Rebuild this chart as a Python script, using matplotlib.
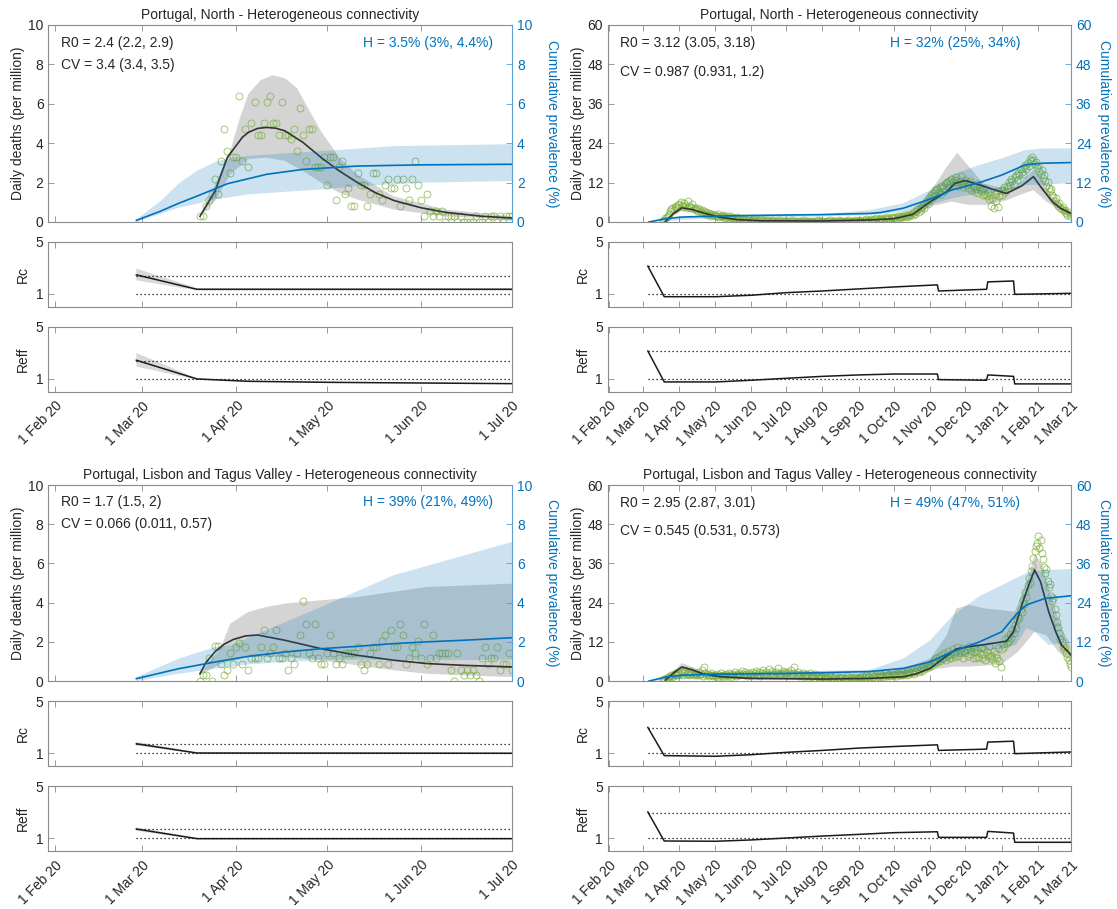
import matplotlib
matplotlib.use("Agg")
import matplotlib.pyplot as plt
import matplotlib.dates as mdates
from matplotlib.ticker import FixedLocator, FuncFormatter
import numpy as np
import pandas as pd

plt.rcParams['font.family'] = ['Liberation Sans', 'DejaVu Sans']
plt.rcParams['font.size'] = 10

BLUE = '#0072BD'
BLUE_SPINE = '#5a9fd4'
GREEN = '#77AC30'
EDGE = '#8a8a8a'
TEXT = '#262626'
MODEL = '#333333'

# ---------------------------------------------------------------- data
TITLE_NORTH = "Portugal, North - Heterogeneous connectivity"
TITLE_LVT = "Portugal, Lisbon and Tagus Valley - Heterogeneous connectivity"

# Daily deaths per million, first wave (from 20 Mar 2020)
TL_DEATHS_START = "2020-03-20"
TL_DEATHS = [0.28, 0.28, 0.83, 1.1, 1.4, 2.2, 1.4, 3.1, 4.7, 3.6,
             2.5, 3.3, 3.3, 6.4, 3.1, 4.7, 2.8, 5.0, 6.1, 4.4,
             4.4, 5.0, 6.1, 6.4, 5.0, 5.0, 4.4, 6.1, 4.4, 4.4,
             4.2, 4.7, 3.6, 5.8, 4.4, 3.1, 4.7, 4.7, 2.8, 2.8,
             2.8, 3.3, 1.9, 3.3, 3.3, 1.1, 2.8, 3.1, 1.4, 1.7,
             0.83, 0.83, 2.5, 1.9, 1.9, 0.83, 1.4, 2.5, 2.5, 1.4,
             1.1, 1.9, 2.2, 1.7, 1.7, 2.2, 0.83, 2.2, 1.7, 1.1,
             2.2, 3.1, 1.9, 1.1, 0.28, 1.4, 0.56, 0.28, 0.56, 0.28,
             0.56, 0, 0.28, 0.28, 0.28, 0, 0.28, 0, 0, 0,
             0, 0.28, 0, 0, 0.28, 0, 0.28, 0.28, 0, 0.28,
             0, 0.28, 0.28, 0.28]

BL_DEATHS_START = "2020-03-20"
BL_DEATHS = [0, 0.3, 0.3, 1.2, 0, 1.77, 1.77, 0.85, 0.3, 0.58,
             1.45, 0.85, 1.74, 1.94, 0.85, 1.74, 0.58, 1.2, 1.2, 1.2,
             1.74, 2.62, 1.2, 1.45, 1.74, 2.62, 1.2, 1.2, 1.45, 0.58,
             1.2, 0.85, 1.45, 2.33, 4.07, 2.9, 1.45, 1.2, 2.9, 1.2,
             0.85, 0.85, 1.45, 2.33, 1.45, 0.85, 1.2, 0.85, 1.45, 1.45,
             1.45, 1.45, 1.74, 0.85, 0.58, 0.85, 1.45, 1.74, 1.74, 0.85,
             2.03, 2.33, 0.85, 2.62, 1.74, 1.74, 2.9, 2.33, 0.85, 1.2,
             1.74, 1.45, 2.03, 1.2, 2.9, 0.85, 1.2, 2.33, 1.2, 1.45,
             1.45, 1.45, 1.45, 0.58, 0, 1.45, 0.58, 0.3, 0.58, 0.3,
             0.58, 0.3, 0, 1.2, 1.74, 0.85, 1.2, 1.2, 1.74, 0.58,
             0.85, 0.85, 1.45, 0.58]

# Daily deaths per million, full year (from 18 Mar 2020), month by month
TR_DEATHS_START = "2020-03-18"
TR_MAR20 = [0.3, 0.6, 1.1, 1.4, 1.9, 2.5, 3.3, 3.9, 4.4, 3.6, 4.7, 5.0, 4.4, 5.3]
TR_APR20 = [5.6, 6.1, 5.0, 4.7, 5.8, 5.3, 4.4, 6.4, 5.0, 4.2, 4.7, 5.5, 3.9, 4.4, 3.6,
            4.2, 3.3, 3.9, 3.1, 3.6, 2.8, 3.3, 2.5, 3.1, 2.2, 2.8, 2.5, 1.9, 2.5, 2.2]
TR_MAY20 = [2.2, 1.7, 1.9, 2.5, 1.4, 1.9, 1.7, 2.2, 1.4, 1.1, 1.7, 1.4, 0.8, 1.9, 1.1, 1.4,
            0.8, 1.1, 0.6, 1.4, 0.8, 1.1, 0.6, 0.8, 1.1, 0.6, 0.3, 0.8, 0.6, 1.1, 0.3]
TR_JUN20 = [0.6, 0.3, 0.8, 0.3, 0.6, 0.0, 0.6, 0.3, 0.8, 0.3, 0.3, 0.6, 0.0, 0.3, 0.6,
            0.3, 0.0, 0.3, 0.6, 0.3, 0.0, 0.3, 0.3, 0.0, 0.6, 0.3, 0.0, 0.3, 0.3, 0.0]
TR_JUL20 = [0.3, 0.0, 0.3, 0.0, 0.3, 0.6, 0.0, 0.3, 0.0, 0.3, 0.0, 0.0, 0.3, 0.3, 0.0, 0.6,
            0.0, 0.3, 0.0, 0.3, 0.0, 0.3, 0.0, 0.0, 0.3, 0.0, 0.3, 0.6, 0.0, 0.3, 0.0]
TR_AUG20 = [0.3, 0.0, 0.0, 0.3, 0.0, 0.3, 0.6, 0.0, 0.0, 0.3, 0.3, 0.0, 0.3, 0.0, 0.6, 0.3,
            0.0, 0.3, 0.0, 0.3, 0.3, 0.0, 0.6, 0.3, 0.0, 0.3, 0.3, 0.0, 0.6, 0.3, 0.3]
TR_SEP20 = [0.3, 0.6, 0.3, 0.0, 0.6, 0.3, 0.8, 0.3, 0.6, 0.3, 0.8, 0.6, 0.3, 0.8, 0.6,
            1.1, 0.6, 0.8, 0.3, 1.1, 0.8, 0.6, 1.1, 0.8, 1.4, 0.8, 1.1, 0.6, 1.4, 1.1]
TR_OCT20 = [1.1, 1.4, 0.8, 1.7, 1.4, 1.1, 1.9, 1.4, 1.7, 2.2, 1.4, 1.9, 2.5, 1.7, 2.2, 2.8,
            2.2, 3.1, 2.5, 3.3, 3.9, 3.1, 4.4, 3.6, 4.7, 5.3, 4.4, 5.8, 6.4, 5.6, 7.2]
TR_NOV20 = [6.7, 8.1, 7.5, 8.9, 9.7, 8.3, 10.0, 9.2, 10.6, 8.6, 11.1, 10.3, 9.4, 11.9, 12.2,
            10.8, 12.5, 11.7, 13.1, 12.2, 11.4, 12.8, 13.6, 12.2, 11.1, 12.5, 13.9, 11.7, 10.6, 12.2]
TR_DEC20 = [12.8, 11.4, 10.3, 11.9, 12.5, 9.7, 11.1, 10.8, 9.2, 10.0, 11.7, 8.9, 10.6, 9.4, 9.7,
            8.3, 10.3, 8.6, 7.8, 9.2, 6.9, 8.1, 5.0, 7.2, 4.4, 8.6, 6.4, 9.4, 4.7, 7.8, 9.7]
TR_JAN21 = [8.3, 9.7, 10.6, 9.2, 11.1, 10.3, 12.2, 11.4, 13.1, 12.5, 11.7, 13.6, 14.4, 12.8, 15.0,
            14.2, 16.1, 15.3, 14.7, 16.7, 17.5, 16.1, 18.1, 17.2, 19.2, 18.6, 19.7, 18.9, 17.8, 18.3, 16.4]
TR_FEB21 = [16.9, 15.6, 14.7, 15.8, 13.3, 14.2, 12.5, 11.1, 12.2, 10.3, 9.4, 10.0, 8.1, 7.5,
            6.4, 7.2, 5.6, 5.0, 5.8, 4.4, 3.9, 4.7, 3.3, 3.6, 2.8, 2.2, 3.1, 1.9]
TR_MAR21 = [2.5]

BR_DEATHS_START = "2020-03-18"
BR_MAR20 = [0.3, 0.6, 0.3, 0.8, 1.1, 0.8, 1.4, 1.7, 1.1, 2.2, 1.9, 2.5, 1.7, 2.8]
BR_APR20 = [2.2, 3.1, 2.5, 1.9, 2.8, 3.3, 2.2, 2.5, 1.7, 3.1, 2.2, 2.8, 1.9, 2.5, 2.2,
            1.7, 2.8, 1.9, 2.2, 3.3, 1.4, 4.2, 2.5, 1.7, 2.2, 1.4, 1.9, 2.5, 1.7, 1.4]
BR_MAY20 = [1.9, 1.4, 2.2, 1.1, 1.7, 2.5, 1.4, 1.9, 1.1, 1.7, 2.2, 1.4, 2.5, 1.9, 1.1, 2.2,
            1.7, 2.8, 1.4, 2.2, 1.9, 2.5, 1.7, 3.1, 2.2, 1.9, 2.8, 2.2, 1.4, 2.5, 1.9]
BR_JUN20 = [2.2, 2.8, 1.9, 2.5, 3.1, 1.7, 2.2, 2.8, 1.4, 2.5, 3.3, 2.2, 1.9, 2.8, 2.2,
            3.6, 1.7, 2.5, 3.1, 2.2, 1.9, 2.8, 2.5, 3.9, 2.2, 1.7, 2.5, 3.1, 2.2, 2.8]
BR_JUL20 = [2.5, 1.9, 2.8, 2.2, 3.3, 1.7, 2.5, 4.2, 2.2, 1.9, 2.8, 1.4, 2.2, 1.7, 2.5, 1.1,
            1.9, 2.2, 1.4, 1.7, 2.5, 1.1, 1.9, 1.4, 0.8, 2.2, 1.4, 1.1, 1.7, 0.8, 1.4]
BR_AUG20 = [1.1, 0.8, 1.4, 0.6, 1.1, 0.8, 1.4, 0.3, 1.1, 0.6, 0.8, 1.4, 0.6, 0.3, 1.1, 0.8,
            0.6, 1.1, 0.3, 0.8, 0.6, 1.4, 0.8, 0.3, 1.1, 0.6, 0.8, 0.3, 1.1, 0.6, 0.8]
BR_SEP20 = [0.8, 1.1, 0.6, 1.4, 0.8, 1.1, 1.7, 0.8, 1.4, 1.1, 0.6, 1.7, 1.1, 1.4, 0.8,
            1.9, 1.4, 1.1, 2.2, 1.4, 1.7, 1.1, 1.9, 2.5, 1.4, 1.7, 2.2, 1.4, 1.9, 1.7]
BR_OCT20 = [1.9, 2.2, 1.4, 2.5, 1.7, 2.2, 1.9, 2.8, 1.7, 2.2, 2.5, 1.9, 3.1, 2.2, 2.8, 2.5,
            3.3, 2.2, 3.1, 2.8, 3.6, 2.8, 3.3, 3.9, 3.1, 4.2, 3.6, 4.7, 3.9, 5.0, 4.4]
BR_NOV20 = [5.3, 4.7, 5.8, 6.4, 5.6, 6.9, 5.8, 7.5, 6.1, 8.1, 6.7, 7.2, 8.6, 6.4, 7.8,
            9.2, 7.2, 8.3, 6.9, 9.7, 8.1, 7.5, 8.9, 10.3, 7.8, 9.4, 8.6, 10.0, 7.2, 9.2]
BR_DEC20 = [8.6, 9.7, 7.8, 10.6, 8.3, 9.2, 7.2, 10.3, 8.9, 6.9, 9.4, 7.5, 8.6, 10.0, 7.2,
            8.3, 9.7, 6.4, 8.9, 7.8, 10.6, 7.5, 8.1, 6.7, 9.2, 5.6, 8.3, 7.2, 10.0, 6.1, 4.4]
BR_JAN21 = [9.7, 11.4, 10.3, 12.8, 11.7, 13.6, 12.2, 14.4, 13.3, 15.6, 14.7, 17.2, 16.1, 18.6,
            20.0, 19.4, 22.2, 21.1, 24.7, 23.6, 27.2, 25.8, 29.4, 31.4, 30.0, 33.6, 35.3, 37.8,
            39.7, 41.4, 42.2]
BR_FEB21 = [44.4, 40.8, 43.3, 39.2, 37.5, 35.0, 33.1, 34.4, 30.6, 28.9, 29.7, 26.1, 24.4, 25.3,
            21.9, 20.3, 18.1, 16.4, 14.7, 12.8, 11.9, 10.6, 9.7, 10.3, 8.6, 7.5, 6.4, 5.3]
BR_MAR21 = [4.4]

# Fitted daily deaths (median) and 95% band, as (date, value) pairs
TL_MODEL = [("2020-03-20", 0.29), ("2020-03-25", 1.57), ("2020-03-29", 3.27), ("2020-04-03", 4.3),
            ("2020-04-05", 4.55), ("2020-04-08", 4.75), ("2020-04-11", 4.8), ("2020-04-14", 4.76),
            ("2020-04-17", 4.63), ("2020-04-23", 4.04), ("2020-04-29", 3.27), ("2020-05-05", 2.59),
            ("2020-05-11", 2.0), ("2020-05-17", 1.48), ("2020-05-23", 1.09), ("2020-06-01", 0.72),
            ("2020-06-09", 0.49), ("2020-06-21", 0.29), ("2020-07-01", 0.2)]
TL_MODEL_HI = [("2020-03-20", 0.29), ("2020-03-25", 1.9), ("2020-03-30", 3.6), ("2020-04-02", 5.2),
               ("2020-04-05", 6.5), ("2020-04-09", 7.2), ("2020-04-13", 7.45), ("2020-04-17", 7.3),
               ("2020-04-21", 6.8), ("2020-04-25", 5.7), ("2020-04-29", 4.6), ("2020-05-05", 3.27),
               ("2020-05-11", 2.4), ("2020-05-23", 1.3), ("2020-06-09", 0.63), ("2020-07-01", 0.29)]
TL_MODEL_LO = [("2020-03-20", 0.29), ("2020-03-25", 1.06), ("2020-03-30", 2.42), ("2020-04-05", 3.19),
               ("2020-04-11", 3.27), ("2020-04-17", 3.1), ("2020-04-23", 2.59), ("2020-04-29", 2.0),
               ("2020-05-05", 1.48), ("2020-05-11", 1.14), ("2020-05-23", 0.63), ("2020-06-09", 0.29),
               ("2020-07-01", 0.12)]

BL_MODEL = [("2020-03-20", 0.37), ("2020-03-22", 0.95), ("2020-03-25", 1.5), ("2020-03-28", 1.88),
            ("2020-03-31", 2.12), ("2020-04-04", 2.3), ("2020-04-08", 2.35), ("2020-04-17", 2.08),
            ("2020-04-29", 1.65), ("2020-05-11", 1.31), ("2020-05-23", 1.06), ("2020-06-03", 0.89),
            ("2020-06-15", 0.8), ("2020-07-01", 0.72)]
BL_MODEL_HI = [("2020-03-20", 0.37), ("2020-03-27", 1.74), ("2020-03-30", 2.93), ("2020-04-05", 3.53),
               ("2020-04-11", 3.78), ("2020-04-17", 3.95), ("2020-04-29", 4.12), ("2020-05-11", 4.29),
               ("2020-06-03", 4.8), ("2020-07-01", 4.97)]
BL_MODEL_LO = [("2020-03-20", 0.3), ("2020-03-27", 0.89), ("2020-04-05", 1.23), ("2020-04-17", 1.23),
               ("2020-04-29", 1.06), ("2020-05-11", 0.8), ("2020-05-23", 0.55), ("2020-06-03", 0.37),
               ("2020-06-15", 0.29), ("2020-07-01", 0.2)]

TR_MODEL = [("2020-03-20", 0.2), ("2020-03-27", 2.6), ("2020-04-03", 4.3), ("2020-04-12", 3.8),
            ("2020-04-21", 2.8), ("2020-05-06", 1.4), ("2020-05-21", 0.7), ("2020-06-10", 0.35),
            ("2020-08-01", 0.3), ("2020-09-10", 0.6), ("2020-10-01", 1.0), ("2020-10-17", 2.3),
            ("2020-11-01", 6.2), ("2020-11-15", 9.2), ("2020-11-22", 11.8), ("2020-12-01", 12.6),
            ("2020-12-13", 11.3), ("2020-12-24", 10.0), ("2021-01-05", 8.7), ("2021-01-18", 11.0),
            ("2021-01-28", 13.8), ("2021-02-04", 10.3), ("2021-02-13", 6.2), ("2021-02-20", 4.2),
            ("2021-03-01", 2.6)]
TR_MODEL_HI = [("2020-03-20", 0.3), ("2020-04-03", 5.0), ("2020-04-21", 3.2), ("2020-05-21", 0.9),
               ("2020-09-10", 0.8), ("2020-10-01", 1.5), ("2020-10-17", 3.5), ("2020-10-24", 6.0),
               ("2020-11-06", 11.8), ("2020-11-15", 16.8), ("2020-11-24", 21.1), ("2020-12-04", 16.8),
               ("2020-12-16", 11.8), ("2021-01-01", 10.3), ("2021-01-13", 10.8), ("2021-01-28", 15.8),
               ("2021-02-02", 14.7), ("2021-02-13", 7.7), ("2021-03-01", 2.9)]
TR_MODEL_LO = [("2020-03-20", 0.15), ("2020-04-03", 3.6), ("2020-04-21", 2.4), ("2020-05-21", 0.5),
               ("2020-09-10", 0.4), ("2020-10-17", 1.2), ("2020-11-01", 4.7), ("2020-11-19", 6.2),
               ("2020-12-04", 5.2), ("2020-12-20", 5.2), ("2021-01-05", 6.6), ("2021-01-16", 8.2),
               ("2021-01-28", 9.7), ("2021-02-08", 6.2), ("2021-03-01", 1.5)]

BR_MODEL = [("2020-03-20", 0.3), ("2020-03-27", 2.5), ("2020-04-03", 4.3), ("2020-04-12", 3.4),
            ("2020-04-21", 2.2), ("2020-05-06", 1.3), ("2020-06-01", 0.8), ("2020-08-01", 0.6),
            ("2020-09-10", 0.8), ("2020-10-09", 1.3), ("2020-10-20", 2.2), ("2020-11-01", 3.9),
            ("2020-11-12", 6.9), ("2020-11-23", 9.8), ("2020-12-04", 10.5), ("2020-12-18", 11.2),
            ("2021-01-05", 12.2), ("2021-01-11", 15.1), ("2021-01-19", 24.3), ("2021-01-25", 30.4),
            ("2021-01-29", 34.0), ("2021-02-03", 30.4), ("2021-02-10", 21.2), ("2021-02-16", 15.1),
            ("2021-02-21", 11.0), ("2021-03-01", 8.0)]
BR_MODEL_HI = [("2020-03-20", 0.5), ("2020-04-03", 5.5), ("2020-04-21", 3.0), ("2020-06-01", 1.2),
               ("2020-09-10", 1.6), ("2020-10-09", 3.9), ("2020-11-01", 6.9), ("2020-11-15", 14.0),
               ("2020-11-23", 22.2), ("2020-12-04", 23.3), ("2020-12-18", 22.2), ("2021-01-01", 21.7),
               ("2021-01-12", 21.2), ("2021-01-22", 30.0), ("2021-01-29", 38.6), ("2021-02-04", 36.0),
               ("2021-02-11", 27.3), ("2021-02-21", 16.0), ("2021-03-01", 11.0)]
BR_MODEL_LO = [("2020-03-20", 0.2), ("2020-04-03", 3.3), ("2020-04-21", 1.7), ("2020-06-01", 0.5),
               ("2020-09-10", 0.4), ("2020-11-01", 3.4), ("2020-11-21", 4.4), ("2020-12-04", 4.4),
               ("2021-01-01", 5.1), ("2021-01-15", 9.0), ("2021-01-29", 15.1), ("2021-02-08", 14.0),
               ("2021-02-18", 9.0), ("2021-03-01", 5.9)]

# Cumulative prevalence (%) and its band
TL_PREV = [("2020-02-28", 0.08), ("2020-03-07", 0.55), ("2020-03-13", 0.95), ("2020-03-19", 1.31),
           ("2020-03-29", 1.94), ("2020-04-11", 2.42), ("2020-04-23", 2.67), ("2020-05-11", 2.84),
           ("2020-06-01", 2.9), ("2020-07-01", 2.93)]
TL_PREV_HI = [("2020-02-28", 0.12), ("2020-03-07", 1.06), ("2020-03-13", 1.95), ("2020-03-19", 2.6),
              ("2020-03-25", 3.05), ("2020-03-30", 3.25), ("2020-04-05", 3.36), ("2020-04-29", 3.6),
              ("2020-05-23", 3.85), ("2020-07-01", 3.95)]
TL_PREV_LO = [("2020-02-28", 0.0), ("2020-03-13", 0.72), ("2020-03-25", 1.14), ("2020-04-05", 1.4),
              ("2020-04-17", 1.53), ("2020-04-29", 1.65), ("2020-05-11", 1.82), ("2020-06-03", 2.0),
              ("2020-07-01", 2.08)]

BL_PREV = [("2020-02-28", 0.12), ("2020-03-13", 0.63), ("2020-03-25", 0.97), ("2020-04-05", 1.26),
           ("2020-04-17", 1.48), ("2020-04-29", 1.65), ("2020-05-11", 1.77), ("2020-05-23", 1.91),
           ("2020-06-03", 2.0), ("2020-06-15", 2.08), ("2020-07-01", 2.21)]
BL_PREV_HI = [("2020-02-28", 0.2), ("2020-03-13", 1.14), ("2020-03-25", 1.74), ("2020-03-30", 1.82),
              ("2020-04-29", 3.78), ("2020-05-23", 5.4), ("2020-06-15", 6.4), ("2020-07-01", 7.1)]
BL_PREV_LO = [("2020-02-28", 0.0), ("2020-03-13", 0.37), ("2020-03-25", 0.63), ("2020-04-05", 0.85),
              ("2020-04-17", 0.97), ("2020-04-29", 1.06), ("2020-05-11", 1.09), ("2020-06-03", 1.06),
              ("2020-07-01", 1.09)]

TR_PREV = [("2020-03-06", 0.0), ("2020-03-20", 1.0), ("2020-04-03", 1.5), ("2020-04-21", 1.7),
           ("2020-06-01", 2.0), ("2020-08-01", 2.25), ("2020-09-10", 2.6), ("2020-09-20", 2.9),
           ("2020-10-09", 4.2), ("2020-11-01", 7.0), ("2020-11-19", 9.7), ("2020-12-13", 12.0),
           ("2021-01-01", 14.3), ("2021-01-21", 17.4), ("2021-02-05", 17.9), ("2021-03-01", 18.1)]
TR_PREV_HI = [("2020-03-06", 0.0), ("2020-03-20", 1.2), ("2020-05-01", 1.9), ("2020-08-01", 2.45),
              ("2020-09-10", 3.6), ("2020-10-09", 5.7), ("2020-11-01", 9.7), ("2020-11-19", 14.3),
              ("2020-12-13", 17.4), ("2021-01-01", 19.4), ("2021-01-21", 21.9), ("2021-02-05", 22.4),
              ("2021-03-01", 22.4)]
TR_PREV_LO = [("2020-03-06", 0.0), ("2020-05-01", 1.2), ("2020-08-01", 1.7), ("2020-09-10", 2.1),
              ("2020-10-09", 3.1), ("2020-11-01", 5.2), ("2020-11-19", 7.2), ("2020-12-13", 8.7),
              ("2021-01-01", 9.2), ("2021-01-21", 11.3), ("2021-02-05", 11.3), ("2021-03-01", 11.9)]

BR_PREV = [("2020-03-06", 0.0), ("2020-03-20", 1.2), ("2020-04-03", 1.8), ("2020-05-01", 2.1),
           ("2020-07-01", 2.3), ("2020-09-10", 2.9), ("2020-10-09", 3.9), ("2020-11-01", 5.9),
           ("2020-11-20", 9.0), ("2020-12-13", 12.0), ("2021-01-01", 15.1), ("2021-01-14", 20.7),
           ("2021-01-22", 23.3), ("2021-02-07", 25.3), ("2021-03-01", 26.1)]
BR_PREV_HI = [("2020-03-06", 0.0), ("2020-03-20", 1.5), ("2020-05-01", 2.5), ("2020-09-10", 3.4),
              ("2020-10-09", 6.9), ("2020-11-01", 12.5), ("2020-11-20", 20.0), ("2020-12-13", 26.0),
              ("2021-01-02", 29.5), ("2021-01-13", 31.5), ("2021-01-25", 33.5), ("2021-02-10", 34.0),
              ("2021-03-01", 34.3)]
BR_PREV_LO = [("2020-03-06", 0.0), ("2020-05-01", 1.2), ("2020-09-10", 1.7), ("2020-10-09", 2.0),
              ("2020-11-01", 3.9), ("2020-11-20", 6.9), ("2020-12-13", 9.0), ("2021-01-02", 9.9),
              ("2021-01-13", 11.0), ("2021-01-22", 16.2), ("2021-01-29", 15.1), ("2021-02-10", 11.0),
              ("2021-03-01", 12.1)]

# Reproduction numbers
TL_RC = [("2020-02-28", 2.47), ("2020-03-19", 1.36), ("2020-07-01", 1.36)]
TL_RC_HI = [("2020-02-28", 2.95), ("2020-03-19", 1.46), ("2020-07-01", 1.46)]
TL_RC_LO = [("2020-02-28", 2.05), ("2020-03-19", 1.27), ("2020-07-01", 1.27)]
TL_REFF = [("2020-02-28", 2.44), ("2020-03-19", 1.0), ("2020-04-05", 0.82), ("2020-05-01", 0.74),
           ("2020-07-01", 0.64)]
TL_REFF_HI = [("2020-02-28", 3.0), ("2020-03-19", 1.05), ("2020-04-05", 0.86), ("2020-07-01", 0.67)]
TL_REFF_LO = [("2020-02-28", 1.95), ("2020-03-19", 0.95), ("2020-04-05", 0.79), ("2020-07-01", 0.61)]

BL_RC = [("2020-02-28", 1.71), ("2020-03-19", 1.0), ("2020-07-01", 0.98)]
BL_RC_HI = [("2020-02-28", 1.86), ("2020-03-19", 1.06), ("2020-07-01", 1.04)]
BL_RC_LO = [("2020-02-28", 1.57), ("2020-03-19", 0.94), ("2020-07-01", 0.92)]
BL_REFF = [("2020-02-28", 1.69), ("2020-03-19", 0.95), ("2020-07-01", 0.95)]
BL_REFF_HI = [("2020-02-28", 1.84), ("2020-03-19", 1.0), ("2020-07-01", 1.0)]
BL_REFF_LO = [("2020-02-28", 1.55), ("2020-03-19", 0.9), ("2020-07-01", 0.9)]

TR_RC = [("2020-03-05", 3.14), ("2020-03-19", 0.79), ("2020-05-02", 0.79), ("2020-06-01", 0.9),
         ("2020-07-01", 1.1), ("2020-08-01", 1.23), ("2020-09-01", 1.39), ("2020-10-01", 1.54),
         ("2020-11-07", 1.7), ("2020-11-08", 1.23), ("2020-12-19", 1.36), ("2020-12-20", 1.93),
         ("2021-01-11", 2.0), ("2021-01-12", 0.97), ("2021-03-01", 1.05)]
TR_REFF = [("2020-03-05", 3.15), ("2020-03-19", 0.77), ("2020-05-02", 0.77), ("2020-06-01", 0.9),
           ("2020-07-01", 1.05), ("2020-08-01", 1.2), ("2020-09-01", 1.31), ("2020-10-01", 1.38),
           ("2020-11-07", 1.38), ("2020-11-08", 0.95), ("2020-12-19", 0.9), ("2020-12-20", 1.31),
           ("2021-01-11", 1.2), ("2021-01-12", 0.62), ("2021-03-01", 0.62)]

BR_RC = [("2020-03-05", 2.97), ("2020-03-19", 0.8), ("2020-05-02", 0.75), ("2020-06-01", 0.87),
         ("2020-07-01", 1.05), ("2020-08-01", 1.2), ("2020-09-01", 1.38), ("2020-10-01", 1.5),
         ("2020-11-07", 1.63), ("2020-11-08", 1.2), ("2020-12-19", 1.3), ("2020-12-20", 1.84),
         ("2021-01-11", 1.91), ("2021-01-12", 0.95), ("2021-03-01", 1.08)]
BR_REFF = [("2020-03-05", 3.0), ("2020-03-19", 0.77), ("2020-05-02", 0.75), ("2020-06-01", 0.85),
           ("2020-07-01", 1.0), ("2020-08-01", 1.15), ("2020-09-01", 1.28), ("2020-10-01", 1.41),
           ("2020-11-07", 1.48), ("2020-11-08", 1.05), ("2020-12-19", 1.05), ("2020-12-20", 1.51),
           ("2021-01-11", 1.38), ("2021-01-12", 0.67), ("2021-03-01", 0.67)]

# Parameter estimates
TL_R0, TL_TEXT = 2.4, ("R0 = 2.4 (2.2, 2.9)", "CV = 3.4 (3.4, 3.5)", "H = 3.5% (3%, 4.4%)")
BL_R0, BL_TEXT = 1.7, ("R0 = 1.7 (1.5, 2)", "CV = 0.066 (0.011, 0.57)", "H = 39% (21%, 49%)")
TR_R0, TR_TEXT = 3.12, ("R0 = 3.12 (3.05, 3.18)", "CV = 0.987 (0.931, 1.2)", "H = 32% (25%, 34%)")
BR_R0, BR_TEXT = 2.95, ("R0 = 2.95 (2.87, 3.01)", "CV = 0.545 (0.531, 0.573)", "H = 49% (47%, 51%)")

# ---------------------------------------------------------------- helpers
def dnum(s):
    return mdates.date2num(pd.Timestamp(s).to_pydatetime())


def curve(pairs):
    return np.array([dnum(d) for d, _ in pairs]), np.array([v for _, v in pairs])


def band(ax, upper, lower, **kw):
    xu, yu = curve(upper)
    xl, yl = curve(lower)
    ax.fill(np.r_[xu, xl[::-1]], np.r_[yu, yl[::-1]], lw=0, **kw)


def daily(start, values):
    dates = pd.date_range(start, periods=len(values), freq="D")
    return mdates.date2num(dates.to_pydatetime()), np.array(values, dtype=float)


def date_label(v, pos):
    d = mdates.num2date(v)
    return f"{d.day} {d.strftime('%b %y')}"


def style_box(ax):
    for sp in ax.spines.values():
        sp.set_color(EDGE)
        sp.set_linewidth(0.8)


def draw_column(x0, w, ys, cfg):
    (ym, hm), (yr, hr), (ye, he) = ys
    xlim = (dnum(cfg["xlim"][0]), dnum(cfg["xlim"][1]))
    ticks = [dnum(t) for t in cfg["ticks"]]
    ymax = cfg["ymax"]

    # ---- main panel: deaths (left) and prevalence (right)
    ax = fig.add_axes([x0, ym, w, hm])
    style_box(ax)
    ax.spines["right"].set_visible(False)
    ax.set_xlim(*xlim)
    ax.set_ylim(0, ymax)
    ax.set_yticks(cfg["yticks"])
    ax.xaxis.set_major_locator(FixedLocator(ticks))
    ax.tick_params(axis="x", direction="in", top=True, bottom=True, length=4, width=0.6,
                   color=EDGE, labelbottom=False)
    ax.tick_params(axis="y", direction="in", left=True, right=False, length=4, width=0.6,
                   color=EDGE, labelcolor=TEXT, labelsize=10)
    band(ax, cfg["model_hi"], cfg["model_lo"], color="k", alpha=0.17, zorder=1)
    xd, yd = cfg["deaths"]
    ax.plot(xd, yd, "o", mfc="none", mec=GREEN, ms=5, mew=0.6, alpha=0.75, zorder=2)
    xm, ym_ = curve(cfg["model"])
    ax.plot(xm, ym_, color=MODEL, lw=1.2, zorder=3)
    ax.set_ylabel("Daily deaths (per million)", color=TEXT, fontsize=10, labelpad=2)
    ax.set_title(cfg["title"], fontsize=10, color=TEXT, pad=4)

    t = cfg["text"]
    ax.text(0.026, cfg["ty"][0], t[0], transform=ax.transAxes, va="center", ha="left",
            color=TEXT, fontsize=10)
    ax.text(0.026, cfg["ty"][1], t[1], transform=ax.transAxes, va="center", ha="left",
            color=TEXT, fontsize=10)
    ax.text(cfg["hx"], cfg["ty"][0], t[2], transform=ax.transAxes, va="center", ha="right",
            color=BLUE, fontsize=10)

    ax2 = ax.twinx()
    for side in ("left", "top", "bottom"):
        ax2.spines[side].set_visible(False)
    ax2.spines["right"].set_color(BLUE_SPINE)
    ax2.spines["right"].set_linewidth(0.8)
    ax2.set_ylim(0, ymax)
    ax2.set_yticks(cfg["yticks"])
    ax2.tick_params(axis="y", direction="in", length=4, width=0.6, color=BLUE_SPINE,
                    labelcolor=BLUE, labelsize=10)
    band(ax2, cfg["prev_hi"], cfg["prev_lo"], color=BLUE, alpha=0.2)
    xp, yp = curve(cfg["prev"])
    ax2.plot(xp, yp, color=BLUE, lw=1.2)
    ax2.set_ylabel("Cumulative prevalence (%)", color=BLUE, rotation=270, labelpad=cfg["rpad"],
                   fontsize=10)

    # ---- Rc and Reff panels
    start = dnum(cfg["rc"][0][0])
    for (yy, hh), key, label, last in (((yr, hr), "rc", "Rc", False),
                                       ((ye, he), "reff", "Reff", True)):
        axr = fig.add_axes([x0, yy, w, hh])
        style_box(axr)
        axr.set_xlim(*xlim)
        axr.set_ylim(0, 5)
        axr.set_yticks([1, 5])
        axr.xaxis.set_major_locator(FixedLocator(ticks))
        axr.xaxis.set_major_formatter(FuncFormatter(date_label))
        axr.tick_params(axis="x", direction="in", top=True, bottom=True, length=4, width=0.6,
                        color=EDGE, labelcolor=TEXT, labelbottom=last, labelsize=10, pad=5)
        axr.tick_params(axis="y", direction="in", left=True, length=4, width=0.6,
                        color=EDGE, labelcolor=TEXT, labelsize=10)
        if last:
            for lab in axr.get_xticklabels():
                lab.set_rotation(45)
                lab.set_ha("right")
                lab.set_rotation_mode("anchor")
        if key + "_hi" in cfg:
            band(axr, cfg[key + "_hi"], cfg[key + "_lo"], color="k", alpha=0.15, zorder=1)
        axr.plot([start, xlim[1]], [1, 1], ls=(0, (1, 2.2)), color="k", lw=0.9, zorder=2)
        axr.plot([start, xlim[1]], [cfg["r0"], cfg["r0"]], ls=(0, (1, 2.2)), color="k",
                 lw=0.9, zorder=2)
        xr, yr_ = curve(cfg[key])
        axr.plot(xr, yr_, color="#1a1a1a", lw=1.1, zorder=3)
        axr.set_ylabel(label, color=TEXT, fontsize=10, labelpad=4)


# ---------------------------------------------------------------- figure
fig = plt.figure(figsize=(11.17, 9.09), dpi=100)

LEFT_LIM = ("2020-01-30", "2020-07-01")
RIGHT_LIM = ("2020-01-31", "2021-03-01")
LEFT_TICKS = [d.strftime("%Y-%m-%d") for d in pd.date_range("2020-02-01", "2020-07-01", freq="MS")]
RIGHT_TICKS = [d.strftime("%Y-%m-%d") for d in pd.date_range("2020-02-01", "2021-03-01", freq="MS")]

TR_ALL = (TR_MAR20 + TR_APR20 + TR_MAY20 + TR_JUN20 + TR_JUL20 + TR_AUG20 + TR_SEP20 +
          TR_OCT20 + TR_NOV20 + TR_DEC20 + TR_JAN21 + TR_FEB21 + TR_MAR21)
BR_ALL = (BR_MAR20 + BR_APR20 + BR_MAY20 + BR_JUN20 + BR_JUL20 + BR_AUG20 + BR_SEP20 +
          BR_OCT20 + BR_NOV20 + BR_DEC20 + BR_JAN21 + BR_FEB21 + BR_MAR21)

panels = [
    (0.0434, 0.415, ((0.7558, 0.2167), (0.6623, 0.0715), (0.5688, 0.0715)),
     dict(title=TITLE_NORTH, xlim=LEFT_LIM, ticks=LEFT_TICKS, ymax=10, yticks=[0, 2, 4, 6, 8, 10],
          deaths=daily(TL_DEATHS_START, TL_DEATHS), model=TL_MODEL, model_hi=TL_MODEL_HI,
          model_lo=TL_MODEL_LO, prev=TL_PREV, prev_hi=TL_PREV_HI, prev_lo=TL_PREV_LO,
          rc=TL_RC, rc_hi=TL_RC_HI, rc_lo=TL_RC_LO, reff=TL_REFF, reff_hi=TL_REFF_HI,
          reff_lo=TL_REFF_LO, r0=TL_R0, text=TL_TEXT, ty=(0.909, 0.797), hx=0.958, rpad=19)),
    (0.5443, 0.4145, ((0.7558, 0.2167), (0.6623, 0.0715), (0.5688, 0.0715)),
     dict(title=TITLE_NORTH, xlim=RIGHT_LIM, ticks=RIGHT_TICKS, ymax=60,
          yticks=[0, 12, 24, 36, 48, 60],
          deaths=daily(TR_DEATHS_START, TR_ALL), model=TR_MODEL, model_hi=TR_MODEL_HI,
          model_lo=TR_MODEL_LO, prev=TR_PREV, prev_hi=TR_PREV_HI, prev_lo=TR_PREV_LO,
          rc=TR_RC, reff=TR_REFF, r0=TR_R0, text=TR_TEXT, ty=(0.909, 0.761), hx=0.89, rpad=14)),
    (0.0434, 0.415, ((0.2508, 0.2156), (0.1573, 0.0715), (0.0638, 0.0715)),
     dict(title=TITLE_LVT, xlim=LEFT_LIM, ticks=LEFT_TICKS, ymax=10, yticks=[0, 2, 4, 6, 8, 10],
          deaths=daily(BL_DEATHS_START, BL_DEATHS), model=BL_MODEL, model_hi=BL_MODEL_HI,
          model_lo=BL_MODEL_LO, prev=BL_PREV, prev_hi=BL_PREV_HI, prev_lo=BL_PREV_LO,
          rc=BL_RC, rc_hi=BL_RC_HI, rc_lo=BL_RC_LO, reff=BL_REFF, reff_hi=BL_REFF_HI,
          reff_lo=BL_REFF_LO, r0=BL_R0, text=BL_TEXT, ty=(0.915, 0.80), hx=0.958, rpad=19)),
    (0.5443, 0.4145, ((0.2508, 0.2156), (0.1573, 0.0715), (0.0638, 0.0715)),
     dict(title=TITLE_LVT, xlim=RIGHT_LIM, ticks=RIGHT_TICKS, ymax=60,
          yticks=[0, 12, 24, 36, 48, 60],
          deaths=daily(BR_DEATHS_START, BR_ALL), model=BR_MODEL, model_hi=BR_MODEL_HI,
          model_lo=BR_MODEL_LO, prev=BR_PREV, prev_hi=BR_PREV_HI, prev_lo=BR_PREV_LO,
          rc=BR_RC, reff=BR_REFF, r0=BR_R0, text=BR_TEXT, ty=(0.91, 0.767), hx=0.89, rpad=14)),
]

for x0, w, ys, cfg in panels:
    draw_column(x0, w, ys, cfg)

fig.savefig("out.png", dpi=100, facecolor="white")
